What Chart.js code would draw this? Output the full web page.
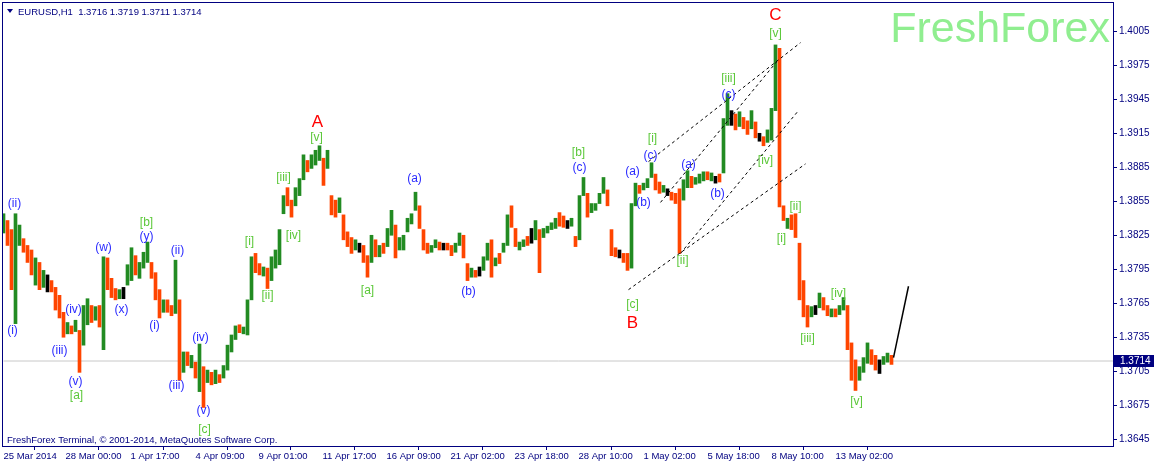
<!DOCTYPE html>
<html>
<head>
<meta charset="utf-8">
<style>
  html, body { margin: 0; padding: 0; background: #ffffff; }
  #wrap { width: 1154px; height: 464px; }
</style>
<script src="https://cdn.jsdelivr.net/npm/chart.js@4.4.1/dist/chart.umd.min.js"></script>
</head>
<body>
<div id="wrap"><canvas id="chart" width="1154" height="464"></canvas></div>
<script>
// EURUSD H1, one candle kept for every 4 hourly bars
const STEP = 4;

const highs = [
  1.3844,1.3838,1.3830,1.3844,1.3834,1.3822,1.3816,1.3812,1.3805,1.3801,
  1.3794,1.3790,1.3785,1.3779,1.3772,1.3757,1.3748,1.3745,1.3750,1.3741,
  1.3763,1.3769,1.3763,1.3762,1.3763,1.3806,1.3805,1.3787,1.3778,1.3777,
  1.3779,1.3799,1.3814,1.3807,1.3801,1.3810,1.3819,1.3801,1.3792,1.3777,
  1.3768,1.3768,1.3763,1.3803,1.3768,1.3722,1.3722,1.3719,1.3713,1.3729,
  1.3709,1.3706,1.3704,1.3706,1.3702,1.3710,1.3728,1.3737,1.3745,1.3746,
  1.3744,1.3768,1.3806,1.3809,1.3800,1.3797,1.3796,1.3806,1.3812,1.3830,
  1.3860,1.3867,1.3856,1.3867,1.3875,1.3896,1.3891,1.3896,1.3900,1.3904,
  1.3893,1.3900,1.3860,1.3856,1.3858,1.3843,1.3828,1.3823,1.3821,1.3818,
  1.3816,1.3807,1.3825,1.3821,1.3816,1.3818,1.3831,1.3847,1.3834,1.3823,
  1.3825,1.3840,1.3844,1.3863,1.3851,1.3830,1.3818,1.3816,1.3821,1.3819,
  1.3818,1.3818,1.3816,1.3818,1.3827,1.3825,1.3800,1.3796,1.3794,1.3797,
  1.3806,1.3818,1.3821,1.3805,1.3809,1.3818,1.3843,1.3851,1.3831,1.3819,
  1.3821,1.3824,1.3831,1.3838,1.3830,1.3831,1.3833,1.3836,1.3840,1.3845,
  1.3842,1.3838,1.3840,1.3824,1.3860,1.3876,1.3862,1.3853,1.3853,1.3862,
  1.3876,1.3865,1.3830,1.3814,1.3812,1.3809,1.3809,1.3853,1.3871,1.3869,
  1.3871,1.3875,1.3889,1.3879,1.3872,1.3869,1.3866,1.3863,1.3862,1.3866,
  1.3874,1.3882,1.3877,1.3876,1.3879,1.3881,1.3881,1.3880,1.3877,1.3879,
  1.3928,1.3950,1.3935,1.3932,1.3934,1.3929,1.3926,1.3935,1.3925,1.3915,
  1.3912,1.3918,1.3937,1.3993,1.3990,1.3851,1.3840,1.3843,1.3844,1.3818,
  1.3785,1.3763,1.3762,1.3763,1.3774,1.3770,1.3763,1.3760,1.3760,1.3763,
  1.3770,1.3763,1.3730,1.3715,1.3709,1.3717,1.3730,1.3724,1.3719,1.3715,
  1.3718,1.3721,1.3719
];

const lows = [
  1.3827,1.3816,1.3777,1.3747,1.3816,1.3810,1.3801,1.3790,1.3781,1.3777,
  1.3779,1.3775,1.3775,1.3759,1.3752,1.3735,1.3738,1.3738,1.3740,1.3704,
  1.3728,1.3746,1.3748,1.3750,1.3744,1.3724,1.3777,1.3770,1.3768,1.3769,
  1.3769,1.3781,1.3785,1.3790,1.3787,1.3796,1.3801,1.3787,1.3768,1.3752,
  1.3757,1.3757,1.3754,1.3756,1.3697,1.3704,1.3710,1.3708,1.3699,1.3687,
  1.3673,1.3695,1.3693,1.3694,1.3695,1.3699,1.3706,1.3722,1.3733,1.3739,
  1.3738,1.3737,1.3768,1.3792,1.3790,1.3789,1.3778,1.3785,1.3796,1.3799,
  1.3844,1.3851,1.3841,1.3851,1.3860,1.3874,1.3881,1.3884,1.3887,1.3891,
  1.3869,1.3884,1.3843,1.3841,1.3845,1.3821,1.3815,1.3809,1.3812,1.3810,
  1.3801,1.3788,1.3801,1.3806,1.3806,1.3809,1.3815,1.3825,1.3805,1.3812,
  1.3812,1.3828,1.3835,1.3847,1.3831,1.3812,1.3809,1.3810,1.3814,1.3812,
  1.3812,1.3812,1.3807,1.3810,1.3816,1.3805,1.3785,1.3788,1.3788,1.3789,
  1.3794,1.3803,1.3788,1.3798,1.3800,1.3810,1.3816,1.3832,1.3815,1.3812,
  1.3815,1.3816,1.3818,1.3821,1.3792,1.3823,1.3827,1.3830,1.3831,1.3833,
  1.3832,1.3831,1.3833,1.3815,1.3821,1.3860,1.3841,1.3845,1.3847,1.3853,
  1.3862,1.3851,1.3807,1.3806,1.3805,1.3801,1.3794,1.3796,1.3851,1.3862,
  1.3865,1.3867,1.3876,1.3865,1.3862,1.3863,1.3860,1.3856,1.3853,1.3809,
  1.3856,1.3867,1.3867,1.3870,1.3871,1.3873,1.3874,1.3873,1.3871,1.3872,
  1.3880,1.3922,1.3922,1.3918,1.3921,1.3919,1.3914,1.3919,1.3911,1.3908,
  1.3904,1.3907,1.3909,1.3935,1.3850,1.3838,1.3831,1.3830,1.3823,1.3768,
  1.3753,1.3744,1.3753,1.3755,1.3761,1.3759,1.3754,1.3753,1.3753,1.3755,
  1.3759,1.3724,1.3697,1.3688,1.3697,1.3704,1.3712,1.3711,1.3706,1.3703,
  1.3711,1.3713,1.3711
];

// u = bull candle, d = bear candle, n = doji
const dirs = ('udduudddud' + 'unddddudud' + 'uudududddu' + 'nuuduuuddd' + 'uddudududu' +
  'dududuuuud' + 'uuudduduuu' + 'udduuuduuu' + 'duddudddun' + 'ddududuudu' +
  'uuuuddduud' + 'ndduuddudn' + 'uududuuddu' + 'udnuduuuud' + 'dnuduuduuu' +
  'udddndduud' + 'uuuddunddd' + 'uuduuudund' + 'uunduddudn' + 'duuudduddd' +
  'ddunuddudu' + 'uddduuuddn' + 'uud').split('');

const dateTicks = [0, 62, 127, 192, 255, 319, 383, 447, 511, 575, 640, 704, 768, 832];
const dateLabels = ['25 Mar 2014', '28 Mar 00:00', '1 Apr 17:00', '4 Apr 09:00', '9 Apr 01:00',
  '11 Apr 17:00', '16 Apr 09:00', '21 Apr 02:00', '23 Apr 18:00', '28 Apr 10:00',
  '1 May 02:00', '5 May 18:00', '8 May 10:00', '13 May 02:00'];
const priceTicks = [1.3645, 1.3675, 1.3705, 1.3735, 1.3765, 1.3795, 1.3825,
  1.3855, 1.3885, 1.3915, 1.3945, 1.3975, 1.4005];

const lastPrice = 1.3714;
const header = 'EURUSD,H1  1.3716 1.3719 1.3711 1.3714';

// channel lines [bar, price] -> [bar, price]
const channels = [
  [[645, 1.3890], [797, 1.3995]],
  [[657, 1.3854], [773, 1.3978]],
  [[677, 1.3809], [794, 1.3934]],
  [[625, 1.3777], [802, 1.3888]]
];
const forecast = [[890, 1.3717], [905, 1.3780]];

const blueWaves = [
  ['(i)', 9, 1.3741], ['(ii)', 11, 1.3853], ['(iii)', 56, 1.3723], ['(iv)', 70, 1.3759], ['(v)', 72, 1.3696],
  ['(w)', 100, 1.3814], ['(x)', 118, 1.3759], ['(y)', 143, 1.3824],
  ['(i)', 151, 1.3745], ['(ii)', 174, 1.3811], ['(iii)', 173, 1.3692], ['(iv)', 197, 1.3735], ['(v)', 200, 1.3670],
  ['(a)', 411, 1.3875], ['(b)', 465, 1.3775], ['(c)', 576, 1.3885],
  ['(a)', 629, 1.3881], ['(b)', 640, 1.3854], ['(c)', 647, 1.3895],
  ['(a)', 685, 1.3887], ['(b)', 714, 1.3862], ['(c)', 725, 1.3949]
];
const greenWaves = [
  ['[a]', 73, 1.3683], ['[b]', 143, 1.3836], ['[c]', 201, 1.3653],
  ['[i]', 246, 1.3819], ['[ii]', 264, 1.3772], ['[iii]', 280, 1.3876], ['[iv]', 290, 1.3825], ['[v]', 313, 1.3911],
  ['[a]', 364, 1.3776], ['[b]', 575, 1.3898], ['[c]', 629, 1.3764],
  ['[i]', 649, 1.3910], ['[ii]', 679, 1.3803], ['[iii]', 725, 1.3963], ['[iv]', 762, 1.3891], ['[v]', 772, 1.4003],
  ['[i]', 778, 1.3822], ['[ii]', 792, 1.3850], ['[iii]', 804, 1.3734], ['[iv]', 835, 1.3773], ['[v]', 853, 1.3678]
];
const redWaves = [['A', 314, 1.3925], ['B', 629, 1.3747], ['C', 772, 1.4019]];

const NAVY = '#000080';
const FONT = '"Liberation Sans", Arial, sans-serif';

const candleData = highs.map((h, i) => ({ x: i * STEP, y: [lows[i], h] }));
const candleColors = dirs.map(d => d === 'u' ? '#228b22' : d === 'd' ? '#ff4500' : '#000000');

const toXY = pts => pts.map(p => ({ x: p[0], y: p[1] }));

const overlay = {
  id: 'overlay',
  beforeDatasetsDraw(chart) {
    const { ctx, chartArea: a } = chart;
    ctx.save();
    ctx.fillStyle = '#90ee90';
    ctx.font = '43px ' + FONT;
    ctx.textAlign = 'right';
    ctx.textBaseline = 'alphabetic';
    ctx.fillText('FreshForex', a.right - 3, 42);
    ctx.restore();
  },
  afterDatasetsDraw(chart) {
    const { ctx, scales: { x, y } } = chart;
    ctx.save();
    ctx.textAlign = 'center';
    ctx.textBaseline = 'middle';
    const put = (list, color, font) => {
      ctx.fillStyle = color;
      ctx.font = font;
      list.forEach(w => ctx.fillText(w[0], x.getPixelForValue(w[1]), y.getPixelForValue(w[2])));
    };
    put(blueWaves, '#2b2bff', '12px ' + FONT);
    put(greenWaves, '#5cc83a', '12px ' + FONT);
    put(redWaves, '#ff0000', '17px ' + FONT);
    ctx.restore();
  },
  afterDraw(chart) {
    const { ctx, chartArea: a, scales: { y } } = chart;
    ctx.save();
    // frame
    ctx.strokeStyle = NAVY;
    ctx.lineWidth = 1;
    ctx.strokeRect(a.left - 0.5, a.top - 0.5, a.right - a.left + 1, a.bottom - a.top + 1);
    // header
    ctx.fillStyle = NAVY;
    ctx.beginPath();
    ctx.moveTo(7, 9); ctx.lineTo(13, 9); ctx.lineTo(10, 13); ctx.closePath();
    ctx.fill();
    ctx.font = '9.5px ' + FONT;
    ctx.textAlign = 'left';
    ctx.textBaseline = 'alphabetic';
    ctx.fillText(header, 18, 15);
    // copyright
    ctx.fillText('FreshForex Terminal, \u00a9 2001-2014, MetaQuotes Software Corp.', 7, 443);
    // last price box
    ctx.font = '10px ' + FONT;
    const py = Math.round(y.getPixelForValue(lastPrice));
    ctx.fillStyle = NAVY;
    ctx.fillRect(a.right + 1, py - 6, 40, 12);
    ctx.fillStyle = '#ffffff';
    ctx.textBaseline = 'middle';
    ctx.fillText(lastPrice.toFixed(4), a.right + 7, py);
    ctx.restore();
  }
};

new Chart(document.getElementById('chart'), {
  type: 'bar',
  data: {
    datasets: [
      {
        type: 'line',
        data: toXY([[0, lastPrice], [1110, lastPrice]]),
        borderColor: '#c8c8c8', borderWidth: 1, pointRadius: 0, order: 10
      },
      {
        type: 'bar',
        data: candleData,
        backgroundColor: candleColors,
        barThickness: 3,
        order: 5
      },
      ...channels.map(c => ({
        type: 'line',
        data: toXY(c),
        borderColor: '#000000', borderWidth: 1, borderDash: [3, 3],
        pointRadius: 0, order: 1
      })),
      {
        type: 'line',
        data: toXY(forecast),
        borderColor: '#000000', borderWidth: 1.5, pointRadius: 0, order: 1
      }
    ]
  },
  options: {
    responsive: false,
    animation: false,
    devicePixelRatio: 1,
    layout: { padding: { left: 3, top: 3, right: 0, bottom: 0 } },
    plugins: { legend: { display: false }, tooltip: { enabled: false } },
    scales: {
      x: {
        type: 'linear', min: -0.5, max: 1109.5, offset: false,
        afterBuildTicks: s => { s.ticks = dateTicks.map(v => ({ value: v })); },
        afterFit: s => { s.height = 18; s.paddingLeft = 0; s.paddingRight = 0; },
        grid: { drawOnChartArea: false, drawTicks: true, tickLength: 4, color: NAVY },
        border: { color: NAVY },
        ticks: {
          autoSkip: false, maxRotation: 0, align: 'start', padding: 1,
          color: NAVY, font: { family: FONT, size: 9.5 },
          callback: (v, i) => dateLabels[i]
        }
      },
      y: {
        position: 'right', min: 1.3639, max: 1.4030,
        afterBuildTicks: s => { s.ticks = priceTicks.map(v => ({ value: v })); },
        afterFit: s => { s.width = 41; s.paddingTop = 0; s.paddingBottom = 0; },
        grid: { drawOnChartArea: false, drawTicks: true, tickLength: 4, color: NAVY },
        border: { color: NAVY },
        ticks: {
          padding: 2, color: NAVY, font: { family: FONT, size: 10 },
          callback: v => v.toFixed(4)
        }
      }
    }
  },
  plugins: [overlay]
});
</script>
</body>
</html>
